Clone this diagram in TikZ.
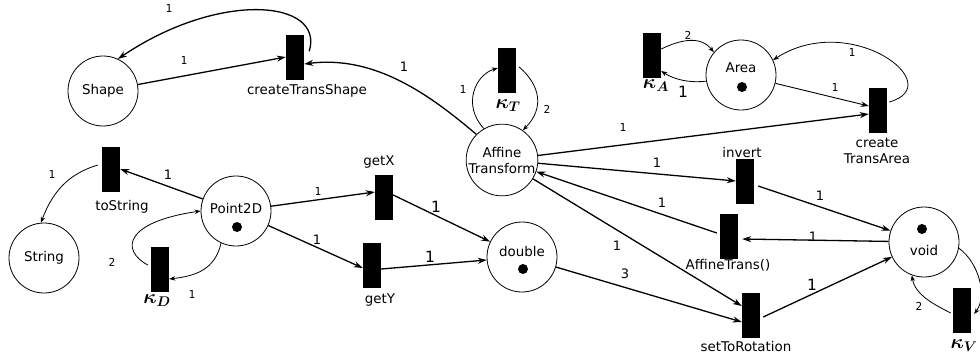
\RequirePackage{fix-cm}
\documentclass[tikz,border=0pt]{standalone}
\usepackage{fontspec}
\setmainfont{DejaVu Sans}
\newfontfamily\monofnt{DejaVu Sans Mono}
\usepackage{bm}
\usetikzlibrary{arrows.meta}

\begin{document}
\begin{tikzpicture}[x=1pt,y=-1pt,
  place/.style={circle,draw,line width=0.8pt,minimum size=70pt,inner sep=0pt,font=\fontsize{13.4}{16}\selectfont},
  trans/.style={rectangle,fill=black,minimum width=18pt,minimum height=45pt,inner sep=0pt},
  tok/.style={circle,fill=black,minimum size=10pt,inner sep=0pt},
  lbl/.style={inner sep=0pt,font=\fontsize{13.4}{16}\selectfont},
  kap/.style={inner sep=0pt,font=\fontsize{20}{22}\selectfont},
  arc/.style={line width=1.3pt,-{Stealth[length=9pt,width=6pt]}},
  thinarc/.style={line width=0.9pt,-{Stealth[length=8pt,width=5.5pt]}},
  loop/.style={line width=0.8pt,-{Stealth[length=6pt,width=4.5pt]}},
  wm/.style={inner sep=0pt,font=\monofnt\fontsize{11}{13}\selectfont},
  ws/.style={inner sep=0pt,font=\fontsize{13}{15}\selectfont},
  wb/.style={inner sep=0pt,font=\fontsize{15.5}{17}\selectfont},
]
\useasboundingbox (0,0) rectangle (980,360);

% places
\node[place] (Shape) at (103,91) {Shape};
\node[place] (String) at (44,258) {String};
\node[place] (P2D) at (236,211) {};
\node[lbl] (P2Dtxt) at (236,208) {Point2D};
\node[tok] (P2Dtok) at (237,227) {};
\node[place] (double) at (522,257) {};
\node[lbl] (dbltxt) at (522,251) {double};
\node[tok] (dbltok) at (523,269) {};
\node[place,align=center] (Aff) at (502,160) {Affine\\Transform};
\node[place] (Area) at (741,75) {};
\node[lbl] (areatxt) at (741,68) {Area};
\node[tok] (areatok) at (742,87) {};
\node[place] (void) at (924,242) {};
\node[lbl] (voidtxt) at (924,250) {void};
\node[tok] (voidtok) at (922,229) {};

% transitions
\node[trans] (cTS) at (295,57) {};
\node[trans] (kT) at (507,70) {};
\node[trans] (kA) at (652,55) {};
\node[trans] (cTA) at (878,110) {};
\node[trans] (toS) at (111,169) {};
\node[trans] (kD) at (160,269) {};
\node[trans] (getX) at (384,197) {};
\node[trans] (getY) at (372,265) {};
\node[trans] (inv) at (745,181) {};
\node[trans] (ATr) at (729,236) {};
\node[trans] (setR) at (751,315) {};
\node[trans] (kV) at (962,310) {};

% transition names
\node[lbl] (cTSname) at (307,91) {createTransShape};
\node[kap] (kTname) at (508,106) {$\bm{\kappa_T}$};
\node[kap] (kAname) at (656,86) {$\bm{\kappa_A}$};
\node[lbl,align=center] (cTAname) at (877,151) {create\\TransArea};
\node[lbl] (invname) at (742,152) {invert};
\node[lbl] (toSname) at (122,207) {toString};
\node[kap] (kDname) at (157,301) {$\bm{\kappa_D}$};
\node[lbl] (getXname) at (379,162) {getX};
\node[lbl] (getYname) at (380,300) {getY};
\node[lbl] (ATrname) at (728,265) {AffineTrans()};
\node[lbl] (setRname) at (746,346) {setToRotation};
\node[kap] (kVname) at (964,346) {$\bm{\kappa_V}$};

% arcs
\draw[arc] ([xshift=5pt,yshift=-17pt]cTS.north east) .. controls (325,0) and (220,-10) .. (Shape.65);
\draw[arc] (Shape) -- (cTS.west);
\draw[arc] (Aff.135) .. controls (430,95) and (375,55) .. ([yshift=-7pt]cTS.east);
\draw[loop] (Aff.120) .. controls (462,105) and (475,75) .. ([yshift=2pt]kT.west);
\draw[loop] ([xshift=3pt,yshift=3pt]kT.east) .. controls (540,85) and (545,108) .. (Aff.55);
\draw[loop] ([yshift=6pt]kA.east) .. controls (680,40) and (700,35) .. (Area.140);
\draw[loop] (Area.190) .. controls (690,83) and (675,80) .. ([yshift=-16pt]kA.east);
\draw[thinarc] (Area) -- ([yshift=4pt]cTA.west);
\draw[arc] (Aff) -- ([yshift=-4pt]cTA.west);
\draw[loop] ([xshift=2pt,yshift=8pt]cTA.east) .. controls (950,85) and (850,10) .. (Area.25);
\draw[arc] (Aff) -- (inv.west);
\draw[arc] ([xshift=4pt,yshift=-5pt]inv.east) -- (void);
\draw[arc] (void) -- ([xshift=4pt,yshift=-3pt]ATr.east);
\draw[arc] ([xshift=-3pt,yshift=3pt]ATr.west) -- (Aff);
\draw[arc] (Aff) -- ([yshift=9pt]setR.west);
\draw[arc] (double) -- ([yshift=-7pt]setR.west);
\draw[arc] ([xshift=3pt,yshift=-2pt]setR.east) -- (void);
\draw[loop] (void.-10) .. controls (978,262) and (988,295) .. ([xshift=3pt,yshift=-4pt]kV.east);
\draw[loop] ([xshift=-2pt,yshift=-3pt]kV.west) .. controls (935,305) and (915,295) .. (void.250);
\draw[loop] ([xshift=-4pt,yshift=4pt]toS.west) .. controls (75,172) and (55,185) .. (String.95);
\draw[arc] (P2D) -- (toS.east);
\draw[loop] ([xshift=-3pt,yshift=4pt]kD.west) .. controls (120,250) and (125,222) .. (P2D.180);
\draw[loop] (P2D.245) .. controls (215,270) and (195,276) .. ([yshift=-10pt]kD.east);
\draw[arc] (P2D) -- ([yshift=5pt]getX.west);
\draw[arc] (P2D) -- ([yshift=-3pt]getY.west);
\draw[arc] ([yshift=2pt]getX.east) -- (double);
\draw[arc] ([yshift=-4pt]getY.east) -- (double);

% weights
\node[wm] (w1) at (169,8) {1};
\node[wm] (w2) at (184,60) {1};
\node[ws] (w3) at (404,67) {1};
\node[wm] (w4) at (463,89) {1};
\node[wm] (w5) at (547,109) {2};
\node[wm] (w6) at (688,35) {2};
\node[wb] (w7) at (683,92) {1};
\node[wm] (w8) at (835,87) {1};
\node[wm] (w9) at (852,52) {1};
\node[wm] (w10) at (623,127) {1};
\node[ws] (w11) at (657,163) {1};
\node[wm] (w12) at (52,174) {1};
\node[ws] (w13) at (168,175) {1};
\node[wm] (w14) at (318,191) {1};
\node[ws] (w15) at (317,240) {1};
\node[wm] (w16) at (112,262) {2};
\node[wm] (w17) at (192,294) {1};
\node[wb] (w18) at (436,207) {1};
\node[wb] (w19) at (430,257) {1};
\node[ws] (w20) at (617,246) {1};
\node[ws] (w21) at (662,203) {1};
\node[ws] (w22) at (625,274) {3};
\node[ws] (w23) at (820,196) {1};
\node[ws] (w24) at (813,237) {1};
\node[wb] (w25) at (812,285) {1};
\node[wm] (w26) at (919,306) {2};
\end{tikzpicture}
\end{document}
